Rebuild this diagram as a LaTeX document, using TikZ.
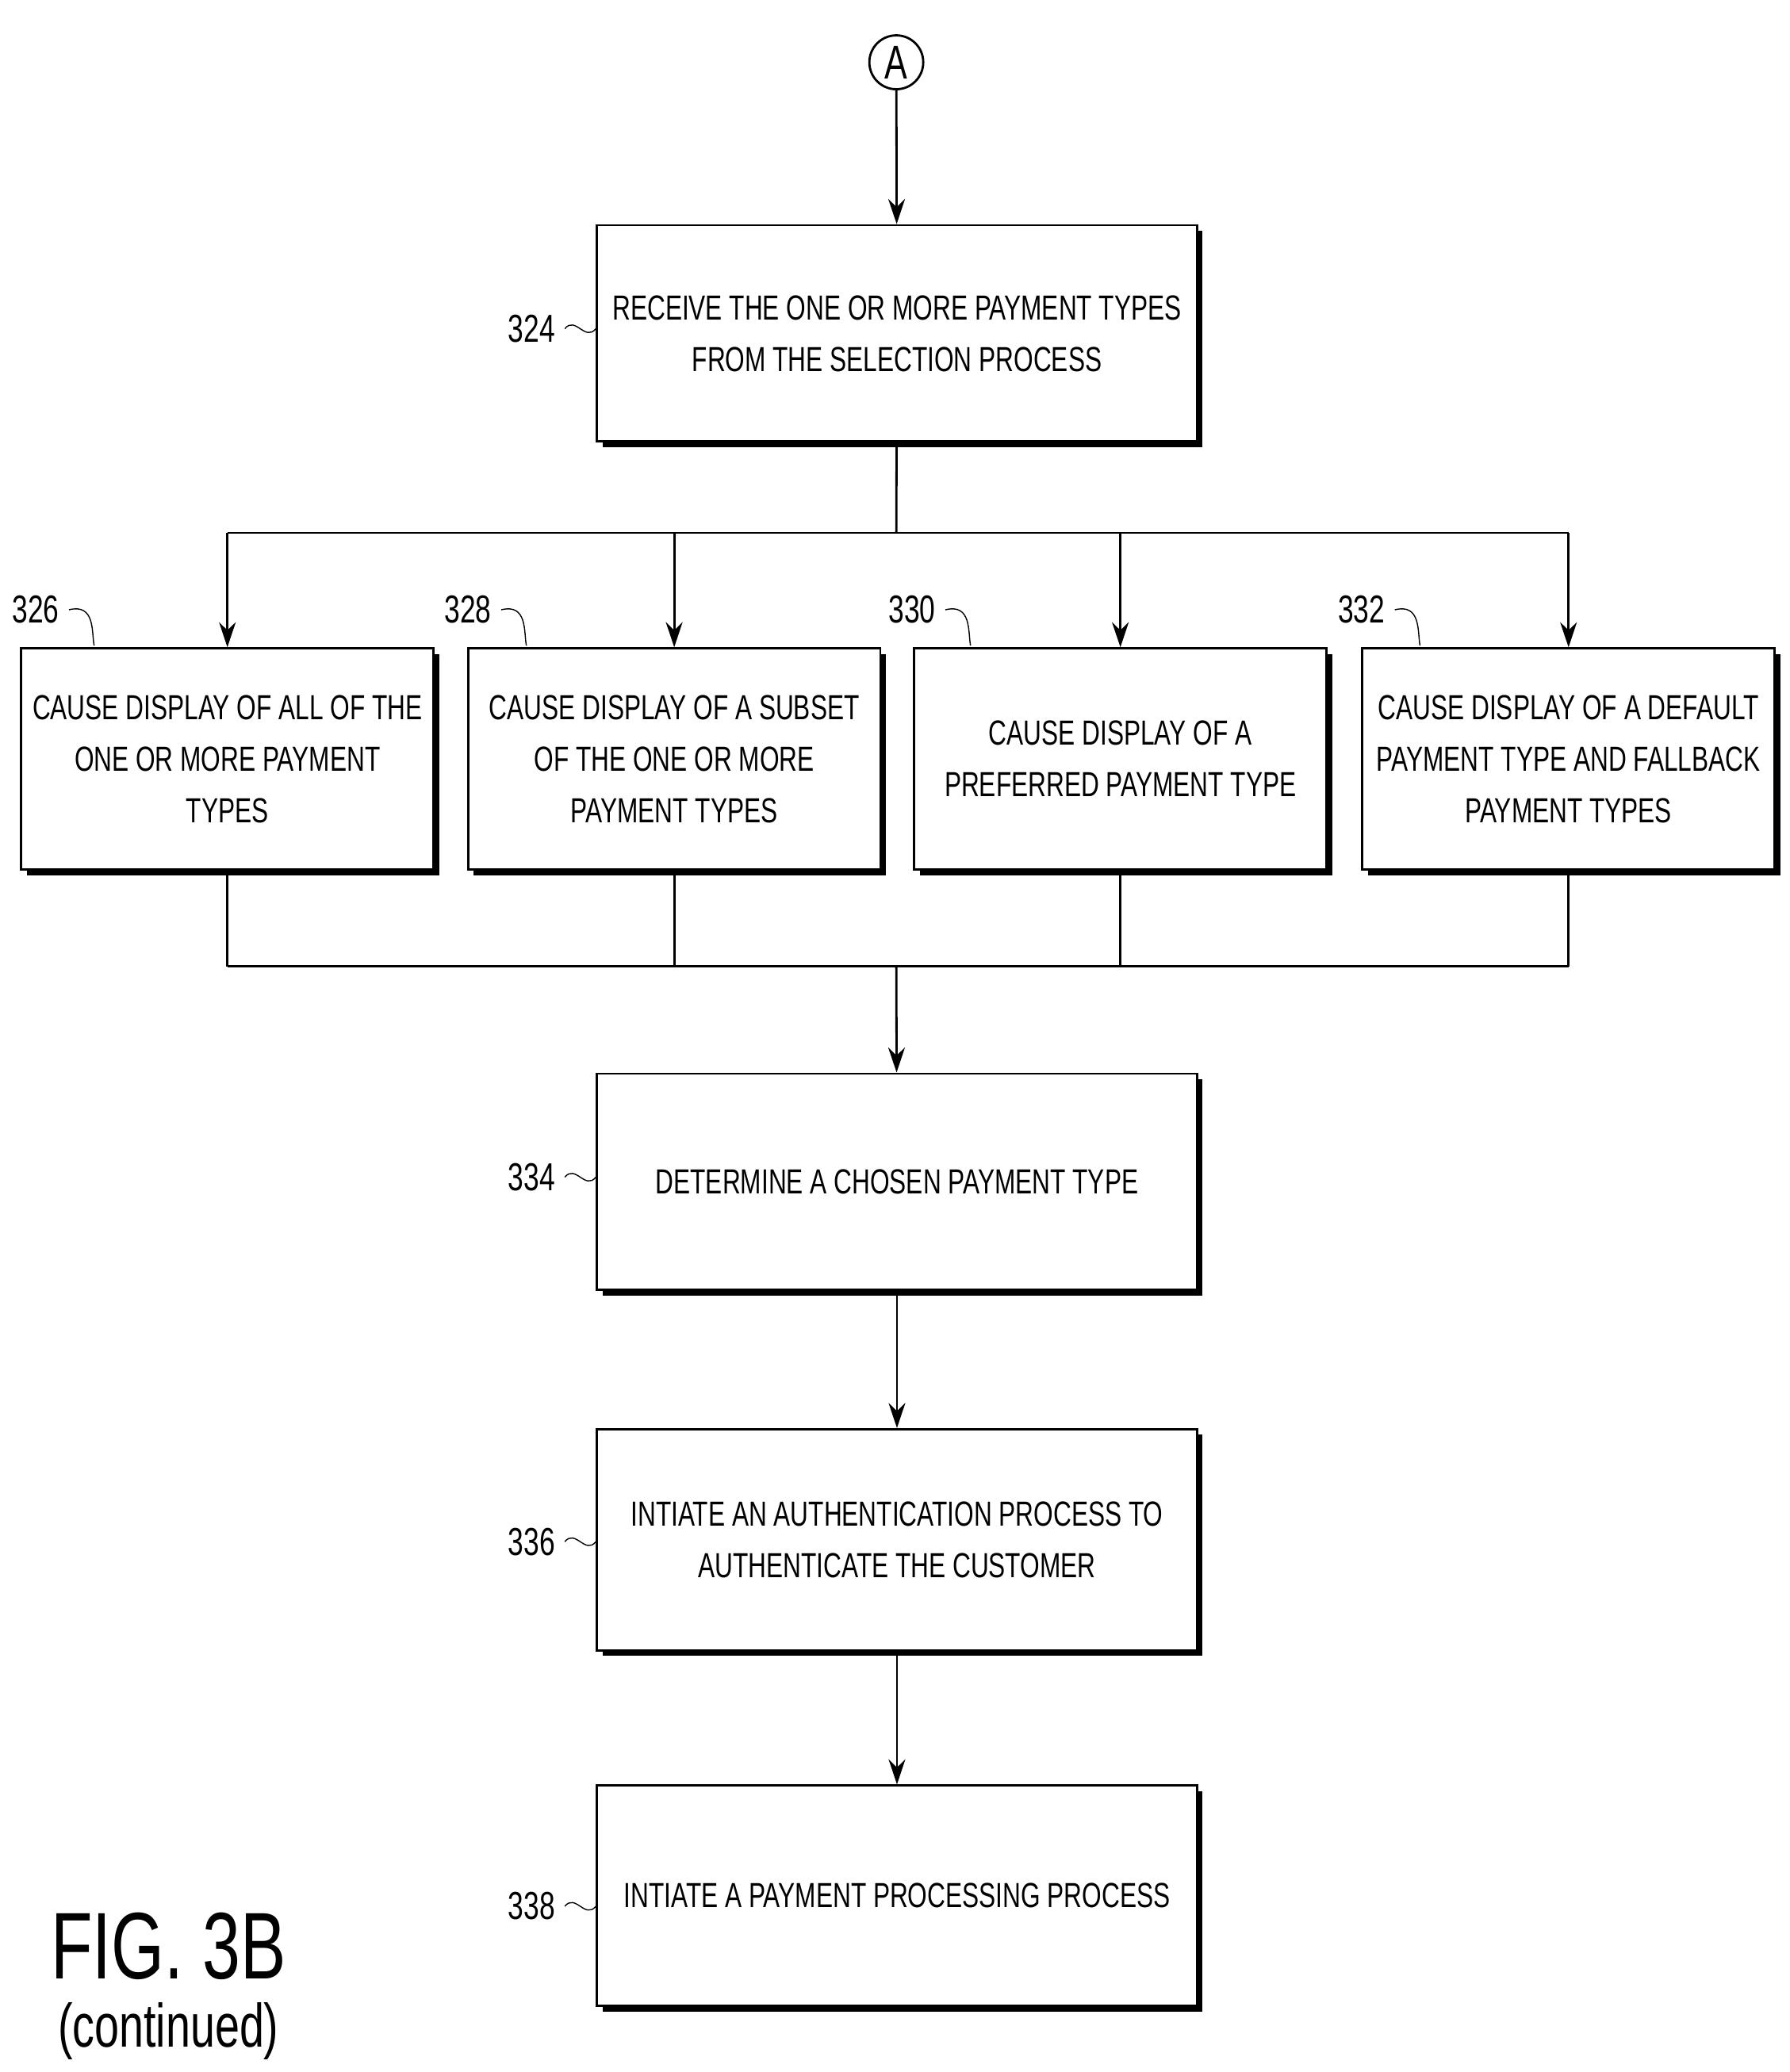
\documentclass[tikz,border=0pt]{standalone}
\usepackage{fontspec}
\setmainfont{Liberation Sans}[FakeStretch=0.72]
\usetikzlibrary{shadows,arrows.meta}
\begin{document}
\begin{tikzpicture}[
  x=0.01672cm, y=-0.01672cm,
  box/.style={rectangle, draw, thick, fill=white, align=center,
    font=\fontsize{12.5}{18.5}\selectfont, inner sep=2pt,
    drop shadow={shadow xshift=0.07cm, shadow yshift=-0.07cm, opacity=1, fill=black}},
  wide/.style={box, minimum width=7.57cm, minimum height=2.73cm},
  small/.style={box, minimum width=5.2cm, minimum height=2.79cm},
  flow/.style={-{Stealth[length=9pt,width=6pt]}, thick},
  tag/.style={font=\fontsize{14}{16}\selectfont}
]
  \useasboundingbox (0,0) rectangle (1350,1563);
  % connector A
  \node[circle, draw, thick, minimum size=0.68cm, inner sep=0pt, font=\fontsize{17}{17}\selectfont] (conA) at (676,47) {A};
  % main steps
  \node[wide] (receive) at (676.5,251.5) {RECEIVE THE ONE OR MORE PAYMENT TYPES\\FROM THE SELECTION PROCESS};
  \node[small] (all) at (171.5,572.5) {CAUSE DISPLAY OF ALL OF THE\\ONE OR MORE PAYMENT\\TYPES};
  \node[small] (subset) at (508.5,572.5) {CAUSE DISPLAY OF A SUBSET\\OF THE ONE OR MORE\\PAYMENT TYPES};
  \node[small] (preferred) at (845,572.5) {CAUSE DISPLAY OF A\\PREFERRED PAYMENT TYPE};
  \node[small] (default) at (1183,572.5) {CAUSE DISPLAY OF A DEFAULT\\PAYMENT TYPE AND FALLBACK\\PAYMENT TYPES};
  \node[wide] (determine) at (676.5,891.5) {DETERMINE A CHOSEN PAYMENT TYPE};
  \node[wide, minimum height=2.79cm] (auth) at (676.5,1161.5) {INTIATE AN AUTHENTICATION PROCESS TO\\AUTHENTICATE THE CUSTOMER};
  \node[wide, minimum height=2.78cm] (pay) at (676.5,1430) {INTIATE A PAYMENT PROCESSING PROCESS};
  % split and merge points
  \coordinate (split) at (676,402);
  \coordinate (merge) at (676,729);
  % connectors
  \draw[flow] (conA) -- (receive);
  \draw[thick] (receive) -- (split);
  \draw[thick] (all.north |- split) -- (default.north |- split);
  \foreach \b in {all,subset,preferred,default}
    \draw[flow] (\b.north |- split) -- (\b);
  \foreach \b in {all,subset,preferred,default}
    \draw[thick] (\b) -- (\b.south |- merge);
  \draw[thick] (all.south |- merge) -- (default.south |- merge);
  \draw[flow] (merge) -- (determine);
  \draw[flow] (determine) -- (auth);
  \draw[flow] (auth) -- (pay);
  % reference numerals
  \foreach \b/\n/\yy in {receive/324/250, determine/334/890, auth/336/1165, pay/338/1440} {
    \node[tag, anchor=east] (n\n) at (426,\yy-2) {\n};
    \draw (n\n.east) .. controls +(8,-10) and +(-8,10) .. (\b.west |- n\n.east);
  }
  \foreach \b/\n/\xx in {all/326/52, subset/328/378, preferred/330/713, default/332/1052} {
    \node[tag, anchor=east] (n\n) at (\xx,460) {\n};
    \draw (n\n.east) .. controls +(20,-5) and +(-2,-10) .. (\xx+19,487);
  }
  % figure caption
  \node[font=\fontsize{34}{36}\selectfont] (fig) at (127,1468) {FIG. 3B};
  \node[font=\fontsize{22}{24}\selectfont] (cont) at (127,1532) {(continued)};
\end{tikzpicture}
\end{document}
